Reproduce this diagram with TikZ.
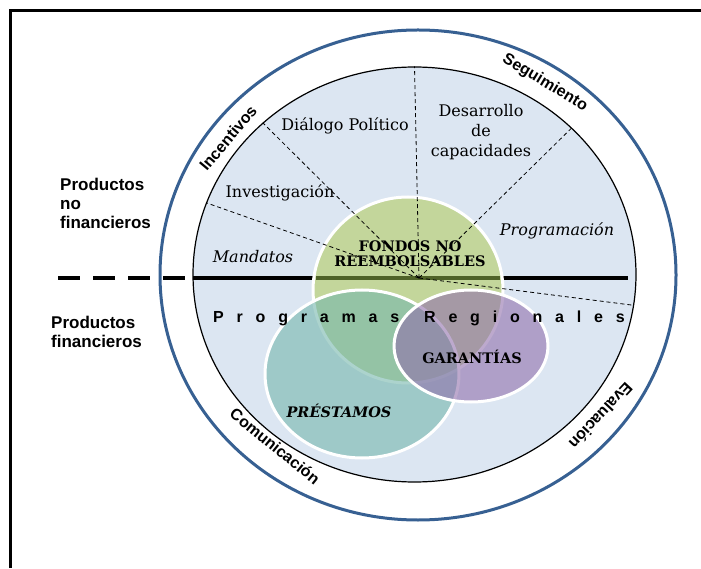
\documentclass[tikz,border=0pt]{standalone}
\usepackage{fontspec}
\setmainfont{DejaVu Serif}
\setsansfont{Liberation Sans}
\usepackage{tikz}
\usetikzlibrary{shapes.geometric, calc}
\definecolor{ringblue}{RGB}{55,96,146}
\definecolor{discblue}{RGB}{220,230,242}
\definecolor{fondogreen}{RGB}{195,214,155}
\definecolor{olivedark}{RGB}{79,98,40}
\definecolor{loanteal}{RGB}{117,183,172}
\definecolor{guarpurple}{RGB}{145,113,172}

\begin{document}
\begin{tikzpicture}[x=1pt, y=1pt,
        bubble/.style={ellipse, draw=white, line width=3pt, inner sep=0pt},
        spoke/.style={dash pattern=on 4pt off 3pt, line width=0.8pt},
        divider/.style={line width=3.5pt},
        ringlbl/.style={font=\sffamily\bfseries\fontsize{16}{18}\selectfont},
        prodlbl/.style={font=\sffamily\bfseries\fontsize{17}{19}\selectfont, align=left, anchor=west, inner sep=0pt},
        sector/.style={font=\fontsize{16}{20}\selectfont, align=center},
        sectorit/.style={sector, font=\itshape\fontsize{16}{20}\selectfont},
        product/.style={font=\bfseries\fontsize{14.5}{15}\selectfont, align=center},
        spaced/.style={font=\sffamily\bfseries\fontsize{16}{18}\selectfont\addfontfeature{LetterSpace=80}, anchor=base west, inner sep=0pt}
    ]
        \useasboundingbox (0,0) rectangle (701,568);
        
        % Frame
        \draw[line width=3pt] (10.5,0) -- (10.5,557) -- (701,557);
        
        % Rings
        \node[ellipse, draw=ringblue, line width=3pt, minimum width=516pt, minimum height=490pt, inner sep=0pt] (ring) at (418,293) {};
        \node[ellipse, draw, fill=discblue, line width=1.2pt, minimum width=443pt, minimum height=415pt, inner sep=0pt] (disc) at (414.5,293.5) {};
        
        % Divider
        \draw[divider, dash pattern=on 22pt off 13pt] (58,290) -- (193,290);
        \draw[divider] (193,290) -- (628,290);
        
        % Fondos no reembolsables
        \node[bubble, fill=fondogreen, minimum width=190pt, minimum height=186pt] (fondos) at (408,278) {};
        \draw[divider, olivedark] (316,290) -- (500,290);
        
        % Spokes
        \coordinate (hub) at (419,290);
        \foreach \a in {161,135,90,43,352}
            \draw[spoke] (hub) -- (disc.\a);
        
        % Prestamos and garantias
        \node[bubble, fill=loanteal, fill opacity=0.6, minimum width=194pt, minimum height=168pt] (prestamos) at (362,194) {};
        \node[bubble, fill=guarpurple, fill opacity=0.6, minimum width=154pt, minimum height=112pt] (garantias) at (471,222) {};
        
        % Ring labels
        \node[ringlbl, rotate=50] (incent) at (228,430) {Incentivos};
        \node[ringlbl, rotate=-31] (seguim) at (545,485) {Seguimiento};
        \node[ringlbl, rotate=-39] (comun) at (275,122) {Comunicación};
        \node[ringlbl, rotate=-133] (evalua) at (601,152) {Evaluación};
        
        % Product groups
        \node[prodlbl] (nofin) at (60,365) {Productos\\no\\financieros};
        \node[prodlbl] (fin) at (51,236) {Productos\\financieros};
        
        % Sectors
        \node[sector] (dialogo) at (345,442) {Diálogo Político};
        \node[sector] (desarrollo) at (481,436) {Desarrollo\\de\\capacidades};
        \node[sector] (investig) at (280,375) {Investigación};
        \node[sectorit] (mandatos) at (253,311) {Mandatos};
        \node[sectorit] (programacion) at (557,337) {Programación};
        
        % Products
        \node[product] (fondoslbl) at (410,314) {FONDOS NO\\REEMBOLSABLES};
        \node[product] (garlbl) at (472,211) {GARANTÍAS};
        \node[product, font=\bfseries\itshape\fontsize{14.5}{15}\selectfont] (preslbl) at (339,157) {PRÉSTAMOS};
        \node[spaced] (progr) at (213,245) {Programas};
        \node[spaced] (region) at (424,245) {Regionales};
    \end{tikzpicture}
\end{document}
